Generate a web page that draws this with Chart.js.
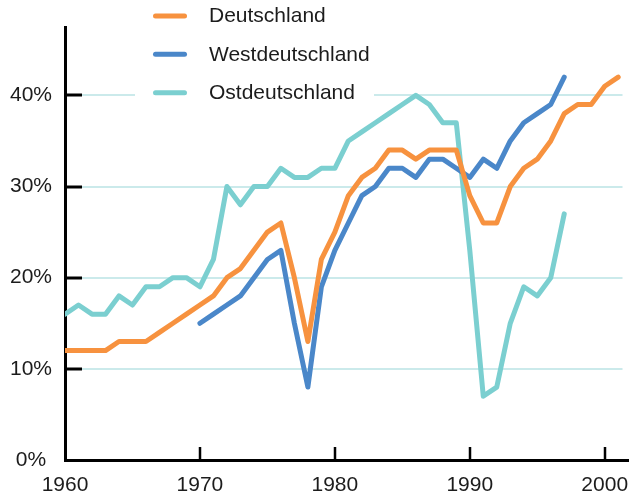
<!DOCTYPE html>
<html>
<head>
<meta charset="utf-8">
<style>
  html, body { margin: 0; padding: 0; background: #ffffff; }
  #wrap { width: 629px; height: 494px; position: relative; }
  canvas { display: block; }
</style>
<script src="https://cdn.jsdelivr.net/npm/chart.js@4.4.1/dist/chart.umd.min.js"></script>
</head>
<body>
<div id="wrap"><canvas id="c" width="629" height="494"></canvas></div>
<script>
const years = [1960,1961,1962,1963,1964,1965,1966,1967,1968,1969,
               1970,1971,1972,1973,1974,1975,1976,1977,1978,1979,
               1980,1981,1982,1983,1984,1985,1986,1987,1988,1989,
               1990,1991,1992,1993,1994,1995,1996,1997,1998,1999,
               2000,2001];

const deutschland = [12,12,12,12,13,13,13,14,15,16,
                     17,18,20,21,23,25,26,20,13,22,
                     25,29,31,32,34,34,33,34,34,34,
                     29,26,26,30,32,33,35,38,39,39,
                     41,42];

const westdeutschland = [null,null,null,null,null,null,null,null,null,null,
                         15,16,17,18,20,22,23,15,8,19,
                         23,26,29,30,32,32,31,33,33,32,
                         31,33,32,35,37,38,39,42,null,null,
                         null,null];

const ostdeutschland = [16,17,16,16,18,17,19,19,20,20,
                        19,22,30,28,30,30,32,31,31,32,
                        32,35,36,37,38,39,40,39,37,37,
                        23,7,8,15,19,18,20,27,null,null,
                        null,null];

const seriesNames = ['Deutschland', 'Westdeutschland', 'Ostdeutschland'];
const xTicks = [1960, 1970, 1980, 1990, 2000];
const yTicks = [0, 10, 20, 30, 40];
const yTickLabels = ['0% ', '10%', '20%', '30%', '40%'];

const colors = ['#F7923F', '#4A87C9', '#7BCFD0'];
const gridColor = '#CBEAEB';
const textColor = '#1c1c1c';
const fontFamily = '"Liberation Sans", Arial, Helvetica, sans-serif';

function toPoints(values) {
  return years.map((yr, i) => ({ x: yr, y: values[i] }));
}

const decorPlugin = {
  id: 'decor',
  beforeDatasetsDraw(chart) {
    const { ctx, chartArea, scales } = chart;
    const xs = scales.x, ys = scales.y;
    ctx.save();
    // horizontal grid lines
    ctx.strokeStyle = gridColor;
    ctx.lineWidth = 2;
    yTicks.forEach(v => {
      if (v === 0) return;
      const py = Math.round(ys.getPixelForValue(v));
      ctx.beginPath();
      ctx.moveTo(chartArea.left + 17, py);
      ctx.lineTo(chartArea.right - 6.5, py);
      ctx.stroke();
    });
    // inward tick marks on y axis
    ctx.strokeStyle = '#000000';
    ctx.lineWidth = 3;
    yTicks.forEach(v => {
      if (v === 0) return;
      const py = Math.round(ys.getPixelForValue(v));
      ctx.beginPath();
      ctx.moveTo(chartArea.left, py);
      ctx.lineTo(chartArea.left + 17, py);
      ctx.stroke();
    });
    // inward tick marks on x axis
    ctx.lineWidth = 2.5;
    xTicks.forEach(v => {
      if (v === xs.min) return;
      const px = Math.round(xs.getPixelForValue(v));
      ctx.beginPath();
      ctx.moveTo(px, chartArea.bottom);
      ctx.lineTo(px, chartArea.bottom - 13);
      ctx.stroke();
    });
    ctx.restore();
  },
  afterDatasetsDraw(chart) {
    const { ctx } = chart;
    ctx.save();
    // legend background
    ctx.fillStyle = '#ffffff';
    ctx.fillRect(135, 0, 239, 106);
    const rows = [16, 54.3, 92.7];
    chart.data.datasets.forEach((ds, i) => {
      const ry = rows[i];
      ctx.strokeStyle = ds.borderColor;
      ctx.lineWidth = 5;
      ctx.lineCap = 'round';
      ctx.beginPath();
      ctx.moveTo(155.5, ry);
      ctx.lineTo(184.5, ry);
      ctx.stroke();
      ctx.fillStyle = textColor;
      ctx.font = '21px ' + fontFamily;
      ctx.textAlign = 'left';
      ctx.textBaseline = 'middle';
      ctx.fillText(ds.label, 209, ry + 0.5);
    });
    ctx.restore();
  }
};

const datasets = [deutschland, westdeutschland, ostdeutschland].map((vals, i) => ({
  label: seriesNames[i],
  data: toPoints(vals),
  borderColor: colors[i],
  backgroundColor: colors[i],
  borderWidth: 5,
  pointRadius: 0,
  pointHoverRadius: 0,
  tension: 0,
  fill: false,
  spanGaps: false,
  borderCapStyle: 'round',
  borderJoinStyle: 'round'
}));

new Chart(document.getElementById('c'), {
  type: 'line',
  data: { datasets },
  options: {
    responsive: false,
    animation: false,
    devicePixelRatio: 1,
    layout: { padding: { top: 27, right: 0, bottom: 0, left: 0 } },
    plugins: {
      legend: { display: false },
      tooltip: { enabled: false }
    },
    scales: {
      x: {
        type: 'linear',
        min: 1960,
        max: 2001.8,
        afterBuildTicks: s => { s.ticks = xTicks.map(v => ({ value: v })); },
        afterFit: s => { s.height = 34; s.paddingLeft = 0; s.paddingRight = 0; },
        grid: { display: false, drawTicks: false },
        border: { display: true, color: '#000000', width: 3 },
        ticks: {
          padding: 13,
          autoSkip: false,
          maxRotation: 0,
          color: textColor,
          font: { family: fontFamily, size: 21 },
          callback: v => String(v)
        }
      },
      y: {
        type: 'linear',
        min: 0,
        max: 47.5,
        afterBuildTicks: s => { s.ticks = yTicks.map(v => ({ value: v })); },
        afterFit: s => { s.width = 65; s.paddingTop = 0; s.paddingBottom = 0; },
        grid: { display: false, drawTicks: false },
        border: { display: true, color: '#000000', width: 3 },
        ticks: {
          padding: 13,
          color: textColor,
          font: { family: fontFamily, size: 21 },
          callback: v => yTickLabels[yTicks.indexOf(v)]
        }
      }
    }
  },
  plugins: [decorPlugin]
});
</script>
</body>
</html>
